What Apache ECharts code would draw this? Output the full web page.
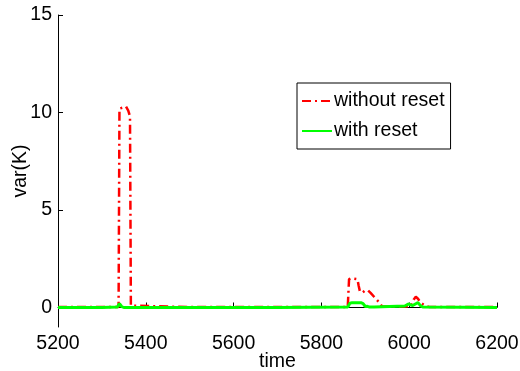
<!DOCTYPE html>
<html>
<head>
<meta charset="utf-8">
<script src="https://cdn.jsdelivr.net/npm/echarts@6/dist/echarts.min.js"></script>
<style>
html,body{margin:0;padding:0;background:#fff;}
#c{width:520px;height:371px;}
</style>
</head>
<body>
<div id="c"></div>
<script>
var xTicks = [5200, 5400, 5600, 5800, 6000, 6200];
var yTicks = [0, 5, 10, 15];

var redTime = [5200, 5300, 5338, 5340, 5343, 5355, 5360, 5364, 5366, 5368, 5500, 5700, 5860, 5863, 5868, 5882, 5885, 5888, 5894, 5900, 5906, 5912, 5920, 5928, 5934, 5938, 6000, 6005, 6010, 6015, 6020, 6026, 6034, 6045, 6200];
var redVals = [0.02, 0.02, 0.02, 10.2, 10.3, 10.3, 10.1, 9.8, 0.1, 0.02, 0.02, 0.02, 0.02, 1.45, 1.5, 1.45, 1.1, 0.8, 0.78, 0.88, 0.88, 0.75, 0.55, 0.35, 0.2, 0.05, 0.05, 0.1, 0.4, 0.55, 0.45, 0.25, 0.12, 0.03, 0.02];

var greenTime = [5200, 5300, 5335, 5340, 5345, 5350, 5500, 5700, 5860, 5865, 5870, 5890, 5895, 5900, 5905, 5910, 5920, 5990, 5998, 6002, 6008, 6014, 6020, 6026, 6032, 6200];
var greenVals = [0, 0, 0.02, 0.2, 0.05, 0, 0, 0, 0.02, 0.22, 0.25, 0.25, 0.2, 0.05, 0.06, 0.02, 0.02, 0.08, 0.18, 0.1, 0.1, 0.18, 0.25, 0.08, 0.02, 0];

function pairs(t, v) { return t.map(function (x, i) { return [x, v[i]]; }); }

var chart = echarts.init(document.getElementById('c'), null, {renderer: 'canvas'});
var font = 'Liberation Sans, Arial, Helvetica, sans-serif';
var fs = 19.5;
chart.setOption({
  animation: false,
  backgroundColor: '#fff',
  grid: {left: 58, right: 23, top: 15, bottom: 44, containLabel: false, outerBoundsMode: 'none'},
  legend: {
    orient: 'vertical',
    left: 297, top: 83,
    padding: [8, 6, 8, 4],
    itemGap: 10,
    itemWidth: 30, itemHeight: 14,
    borderColor: '#000', borderWidth: 1,
    backgroundColor: '#fff',
    itemStyle: {opacity: 0},
    textStyle: {fontFamily: font, fontSize: fs, color: '#000', padding: [0, 0, 0, -3]},
    data: ['without reset', 'with reset']
  },
  xAxis: {
    type: 'value', min: 5200, max: 6200, interval: 200,
    name: 'time', nameLocation: 'middle', nameGap: 25, nameMoveOverlap: false,
    nameTextStyle: {fontFamily: font, fontSize: fs, color: '#000'},
    axisLine: {lineStyle: {color: '#000', width: 1}},
    axisTick: {inside: true, length: 5, lineStyle: {color: '#000'}},
    axisLabel: {fontFamily: font, fontSize: fs, color: '#000', margin: 7, formatter: function (v) { return String(v); }},
    splitLine: {show: false}
  },
  yAxis: {
    type: 'value', min: -1, max: 15,
    name: 'var(K)', nameLocation: 'middle', nameGap: 27, nameMoveOverlap: false,
    nameTextStyle: {fontFamily: font, fontSize: fs, color: '#000'},
    axisLine: {show: true, lineStyle: {color: '#000', width: 1}},
    axisTick: {show: true, inside: true, length: 5, lineStyle: {color: '#000'}, customValues: yTicks},
    axisLabel: {fontFamily: font, fontSize: fs, color: '#000', margin: 6, customValues: yTicks},
    splitLine: {show: false}
  },
  series: [
    {
      name: 'without reset', type: 'line', symbol: 'none',
      data: pairs(redTime, redVals),
      lineStyle: {color: '#ff0000', width: 2.5, type: [9, 4, 2, 4]},
      itemStyle: {color: '#ff0000'},
      z: 2
    },
    {
      name: 'with reset', type: 'line', symbol: 'none',
      data: pairs(greenTime, greenVals),
      lineStyle: {color: '#00ff00', width: 3},
      itemStyle: {color: '#00ff00'},
      z: 3
    }
  ]
});
</script>
</body>
</html>
